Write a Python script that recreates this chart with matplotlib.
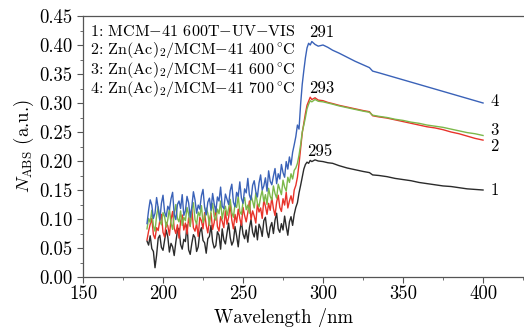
import numpy as np
import matplotlib.pyplot as plt
from matplotlib.ticker import MultipleLocator, FormatStrFormatter

plt.rcParams['font.family'] = ['cmr10', 'DejaVu Serif']
plt.rcParams['mathtext.fontset'] = 'cm'
plt.rcParams['axes.unicode_minus'] = False

# noisy part of the spectra, 1 nm steps
wl_noise = np.arange(190, 283)
# smoother part after the absorption edge
wl_edge = [283, 284, 285, 286, 287, 288, 289, 290, 291, 292, 293, 295, 297, 300, 303, 306,
           310, 315, 320, 325, 329, 331, 335, 340, 345, 350, 355, 360, 365, 370, 375, 380,
           385, 390, 395, 400]

s1_noise = [0.062, 0.055, 0.071, 0.049, 0.044, 0.016, 0.038, 0.067, 0.072, 0.051,
            0.046, 0.063, 0.081, 0.069, 0.043, 0.058, 0.052, 0.037, 0.060, 0.079,
            0.084, 0.056, 0.048, 0.065, 0.061, 0.090, 0.047, 0.039, 0.058, 0.073,
            0.068, 0.044, 0.052, 0.077, 0.085, 0.063, 0.059, 0.041, 0.066, 0.070,
            0.089, 0.061, 0.050, 0.054, 0.078, 0.072, 0.048, 0.083, 0.064, 0.057,
            0.076, 0.093, 0.068, 0.055, 0.062, 0.087, 0.071, 0.052, 0.079, 0.096,
            0.074, 0.066, 0.081, 0.060, 0.085, 0.099, 0.077, 0.069, 0.088, 0.064,
            0.091, 0.084, 0.070, 0.097, 0.103, 0.079, 0.068, 0.086, 0.094, 0.075,
            0.098, 0.110, 0.083, 0.077, 0.092, 0.081, 0.105, 0.087, 0.072, 0.095,
            0.104, 0.089, 0.108]
s1_edge = [0.120, 0.128, 0.145, 0.158, 0.172, 0.186, 0.194, 0.198, 0.196, 0.201, 0.199, 0.202,
           0.200, 0.199, 0.197, 0.196, 0.192, 0.188, 0.185, 0.182, 0.180, 0.176, 0.175, 0.173,
           0.170, 0.168, 0.166, 0.163, 0.161, 0.159, 0.157, 0.156, 0.154, 0.152, 0.151, 0.150]

s2_noise = [0.064, 0.079, 0.091, 0.101, 0.073, 0.066, 0.085, 0.080, 0.097, 0.108,
            0.077, 0.069, 0.094, 0.088, 0.072, 0.099, 0.113, 0.084, 0.075, 0.090,
            0.067, 0.096, 0.107, 0.081, 0.093, 0.074, 0.102, 0.088, 0.118, 0.085,
            0.079, 0.092, 0.070, 0.103, 0.097, 0.083, 0.111, 0.089, 0.076, 0.098,
            0.110, 0.082, 0.094, 0.121, 0.087, 0.079, 0.104, 0.096, 0.085, 0.114,
            0.091, 0.103, 0.125, 0.098, 0.083, 0.108, 0.094, 0.117, 0.101, 0.089,
            0.120, 0.106, 0.095, 0.111, 0.131, 0.099, 0.114, 0.105, 0.093, 0.126,
            0.112, 0.119, 0.101, 0.133, 0.122, 0.108, 0.127, 0.115, 0.137, 0.118,
            0.106, 0.129, 0.141, 0.120, 0.113, 0.135, 0.124, 0.146, 0.119, 0.131,
            0.140, 0.127, 0.150]
s2_edge = [0.158, 0.172, 0.195, 0.222, 0.248, 0.265, 0.282, 0.296, 0.303, 0.310, 0.306, 0.309,
           0.305, 0.304, 0.301, 0.299, 0.296, 0.293, 0.290, 0.287, 0.285, 0.278, 0.276, 0.274,
           0.271, 0.268, 0.265, 0.262, 0.259, 0.257, 0.254, 0.250, 0.247, 0.243, 0.239, 0.236]

s3_noise = [0.083, 0.101, 0.094, 0.115, 0.088, 0.079, 0.106, 0.121, 0.097, 0.090,
            0.111, 0.104, 0.086, 0.099, 0.118, 0.093, 0.082, 0.109, 0.125, 0.101,
            0.095, 0.114, 0.089, 0.103, 0.097, 0.120, 0.108, 0.087, 0.116, 0.128,
            0.099, 0.091, 0.112, 0.105, 0.123, 0.094, 0.102, 0.119, 0.110, 0.089,
            0.113, 0.127, 0.104, 0.098, 0.117, 0.109, 0.131, 0.100, 0.115, 0.122,
            0.106, 0.118, 0.134, 0.111, 0.103, 0.126, 0.120, 0.139, 0.113, 0.108,
            0.129, 0.137, 0.116, 0.124, 0.110, 0.141, 0.131, 0.119, 0.145, 0.127,
            0.121, 0.138, 0.149, 0.130, 0.142, 0.125, 0.153, 0.139, 0.133, 0.157,
            0.144, 0.136, 0.160, 0.151, 0.142, 0.167, 0.155, 0.148, 0.172, 0.163,
            0.178, 0.169, 0.184]
s3_edge = [0.188, 0.196, 0.210, 0.228, 0.250, 0.262, 0.275, 0.290, 0.298, 0.304, 0.302, 0.306,
           0.303, 0.302, 0.300, 0.298, 0.295, 0.292, 0.289, 0.286, 0.284, 0.279, 0.277, 0.275,
           0.272, 0.270, 0.267, 0.265, 0.262, 0.260, 0.258, 0.255, 0.252, 0.249, 0.247, 0.244]

s4_noise = [0.092, 0.115, 0.133, 0.124, 0.101, 0.110, 0.137, 0.119, 0.098, 0.127,
            0.141, 0.112, 0.104, 0.122, 0.116, 0.135, 0.146, 0.108, 0.099, 0.125,
            0.131, 0.118, 0.142, 0.106, 0.114, 0.139, 0.128, 0.103, 0.121, 0.147,
            0.133, 0.110, 0.124, 0.117, 0.140, 0.151, 0.120, 0.107, 0.129, 0.136,
            0.115, 0.144, 0.126, 0.112, 0.138, 0.131, 0.155, 0.122, 0.118, 0.143,
            0.134, 0.125, 0.149, 0.160, 0.129, 0.121, 0.146, 0.139, 0.164, 0.136,
            0.127, 0.152, 0.145, 0.170, 0.141, 0.133, 0.158, 0.166, 0.147, 0.138,
            0.162, 0.176, 0.150, 0.157, 0.171, 0.148, 0.183, 0.165, 0.159, 0.174,
            0.187, 0.161, 0.178, 0.169, 0.194, 0.180, 0.172, 0.199, 0.186, 0.207,
            0.193, 0.215, 0.228]
s4_edge = [0.242, 0.262, 0.255, 0.298, 0.332, 0.356, 0.378, 0.395, 0.403, 0.400, 0.406, 0.401,
           0.398, 0.400, 0.396, 0.391, 0.386, 0.379, 0.372, 0.366, 0.361, 0.355, 0.352, 0.348,
           0.344, 0.340, 0.336, 0.332, 0.328, 0.324, 0.320, 0.316, 0.312, 0.308, 0.304, 0.300]

legend_lines = ["1: MCM$-$41 600T$-$UV$-$VIS",
                "2: Zn(Ac)$_2$/MCM$-$41 400$\\,^{\\circ}$C",
                "3: Zn(Ac)$_2$/MCM$-$41 600$\\,^{\\circ}$C",
                "4: Zn(Ac)$_2$/MCM$-$41 700$\\,^{\\circ}$C"]
colors = ['#2b2b2b', '#e8332a', '#7cb84a', '#3a62b8']

# peak labels and end labels
peak_text = ['295', '293', '291']
peak_xy = [(298, 0.216), (299, 0.326), (299, 0.421)]
end_text = ['1', '2', '3', '4']
end_xy = [(404.5, 0.150), (404.5, 0.226), (404.5, 0.253), (404.5, 0.302)]

fig = plt.figure(figsize=(5.24, 3.27), dpi=100)
ax = fig.add_axes([83 / 524, 50 / 327, 441 / 524, 261 / 327])

series = [(s1_noise, s1_edge), (s2_noise, s2_edge), (s3_noise, s3_edge), (s4_noise, s4_edge)]
for (yn, ye), c in zip(series, colors):
    x = np.concatenate([wl_noise, wl_edge])
    y = np.concatenate([yn, ye])
    ax.plot(x, y, color=c, lw=1.0)

for t, (px, py) in zip(peak_text, peak_xy):
    ax.text(px, py, t, ha='center', va='center', fontsize=12)
for t, (px, py) in zip(end_text, end_xy):
    ax.text(px, py, t, ha='left', va='center', fontsize=12)

for i, t in enumerate(legend_lines):
    ax.text(0.016, 0.941 - i * 0.073, t, transform=ax.transAxes, ha='left', va='center',
            fontsize=11.6)

ax.set_xlim(150, 425.6)
ax.set_ylim(0, 0.45)
ax.xaxis.set_major_locator(MultipleLocator(50))
ax.xaxis.set_minor_locator(MultipleLocator(25))
ax.yaxis.set_major_locator(MultipleLocator(0.05))
ax.yaxis.set_minor_locator(MultipleLocator(0.025))
ax.yaxis.set_major_formatter(FormatStrFormatter('%.2f'))
ax.tick_params(which='both', direction='out', labelsize=13.5, color='#555555', top=False, right=False)
ax.tick_params(which='major', length=4)
ax.tick_params(which='minor', length=2.5)
ax.tick_params(axis='x', pad=2)
ax.spines['right'].set_visible(False)
for s in ['left', 'bottom', 'top']:
    ax.spines[s].set_color('#555555')
    ax.spines[s].set_linewidth(0.9)

ax.set_xlabel('Wavelength /nm', fontsize=13.5)
ax.xaxis.set_label_coords((284 - 83) / 441, -0.118)
ax.set_ylabel(r'$N_{\rm ABS}$ (a.u.)', fontsize=13.5, labelpad=2)

fig.savefig('out.png', dpi=100)
